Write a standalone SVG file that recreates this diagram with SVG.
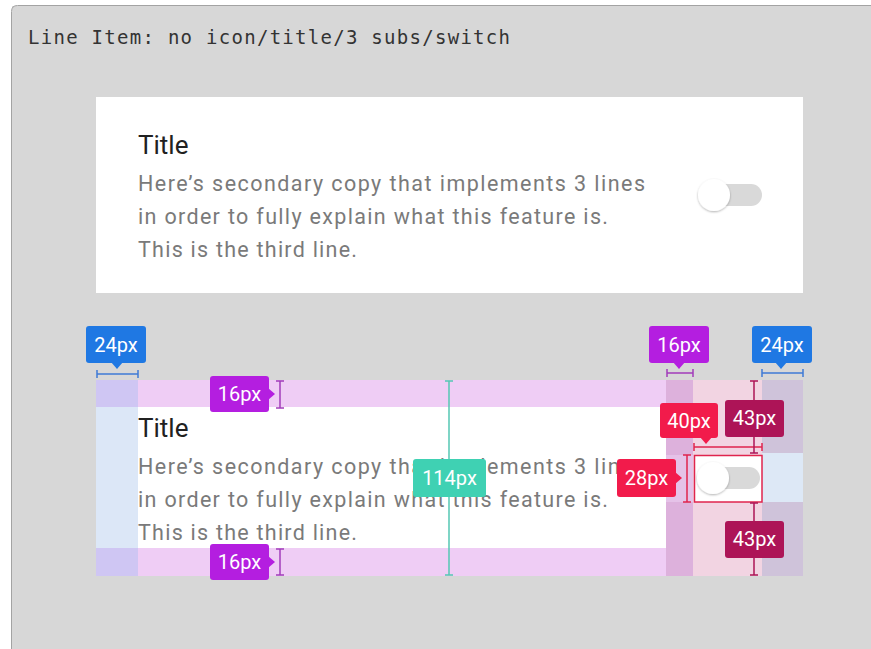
<svg xmlns="http://www.w3.org/2000/svg" width="871" height="649" viewBox="0 0 871 649">
<defs>
<style>
.mono{font-family:"DejaVu Sans Mono","Liberation Mono",monospace;font-size:19px;fill:#333}
.ttl{font-family:Roboto,"Liberation Sans",sans-serif;font-size:26px;fill:#212121}
.sub{font-family:Roboto,"Liberation Sans",sans-serif;font-size:21.5px;fill:#7a7a7a}
.lbl{font-family:Roboto,"Liberation Sans",sans-serif;font-size:20px;fill:#ffffff;text-anchor:middle}
.blue{fill:#1f78e3}
.purple{fill:#b41ee0}
.teal{fill:#3fd1b3}
.red{fill:#f21b4b}
.maroon{fill:#ad1457}
.m-blue{stroke:#3f7bd6;stroke-width:1.5;fill:none}
.m-purple{stroke:#a23cba;stroke-width:1.5;fill:none}
.m-teal{stroke:#55c8b4;stroke-width:1.5;fill:none}
.m-red{stroke:#e0244e;stroke-width:1.5;fill:none}
.m-maroon{stroke:#ad1457;stroke-width:1.5;fill:none}
</style>
<filter id="sh" x="-50%" y="-50%" width="200%" height="200%">
<feDropShadow dx="0" dy="1" stdDeviation="1.2" flood-color="#000" flood-opacity="0.3"/>
</filter>
</defs>

<g id="frame">
<rect x="12" y="6" width="859" height="643" fill="#d7d7d7"/>
<path d="M11.5 649 V11.5 Q11.5 5.5 17.5 5.5 H871" fill="none" stroke="#a3a3a3" stroke-width="1"/>
<text class="mono" x="28" y="44" textLength="482" lengthAdjust="spacing">Line Item: no icon/title/3 subs/switch</text>
</g>

<g id="card-preview">
<rect x="96" y="97" width="707" height="196" fill="#ffffff"/>
<text class="ttl" x="138" y="154">Title</text>
<text class="sub" x="138" y="191" textLength="507" lengthAdjust="spacing">Here’s secondary copy that implements 3 lines</text>
<text class="sub" x="138" y="224" textLength="470" lengthAdjust="spacing">in order to fully explain what this feature is.</text>
<text class="sub" x="138" y="257" textLength="219" lengthAdjust="spacing">This is the third line.</text>
<rect x="704" y="184" width="58" height="22" rx="11" fill="#d9d9d9"/>
<circle cx="714" cy="195" r="16" fill="#ffffff" filter="url(#sh)"/>
</g>

<g id="card-spec">
<rect x="96" y="380" width="707" height="196" fill="#ffffff"/>
<rect x="96" y="380" width="42" height="196" fill="#dce7f7"/>
<rect x="96" y="380" width="42" height="27" fill="#cfc6f3"/>
<rect x="96" y="548" width="42" height="28" fill="#cfc6f3"/>
<rect x="138" y="380" width="528" height="27" fill="#efcdf5"/>
<rect x="138" y="548" width="528" height="28" fill="#efcdf5"/>
<rect x="666" y="380" width="27" height="196" fill="#ddb1dc"/>
<rect x="666" y="455" width="27" height="47" fill="#e5c2e8"/>
<rect x="693" y="380" width="69" height="196" fill="#f2d4e2"/>
<rect x="762" y="380" width="41" height="196" fill="#cfc3da"/>
<rect x="762" y="453" width="41" height="49" fill="#dde8f6"/>
<rect x="694.5" y="455.5" width="67.5" height="46.5" fill="#ffffff"/>
<text class="ttl" x="138" y="437">Title</text>
<text class="sub" x="138" y="474" textLength="507" lengthAdjust="spacing">Here’s secondary copy that implements 3 lines</text>
<text class="sub" x="138" y="507" textLength="470" lengthAdjust="spacing">in order to fully explain what this feature is.</text>
<text class="sub" x="138" y="540" textLength="219" lengthAdjust="spacing">This is the third line.</text>
<rect x="704" y="467" width="56" height="22" rx="11" fill="#d9d9d9"/>
<circle cx="713" cy="478" r="16" fill="#ffffff" filter="url(#sh)"/>
</g>

<g id="connectors">
<path class="m-blue" d="M97 374 H138 M97 370 V378 M138 370 V378"/>
<path class="m-blue" d="M762 373 H803 M762 369 V377 M803 369 V377"/>
<path class="m-purple" d="M667 373 H693 M667 369 V377 M693 369 V377"/>
<path class="m-purple" d="M280 381 V408 M276 381 H284 M276 408 H284"/>
<path class="m-purple" d="M280 549 V575 M276 549 H284 M276 575 H284"/>
<path class="m-teal" d="M449 381 V575 M445 381 H453 M445 575 H453"/>
<path class="m-red" d="M694 447 H762 M694 443 V451 M762 443 V451"/>
<path class="m-red" d="M687 455 V502 M683 455 H691 M683 502 H691"/>
<rect class="m-red" x="694.5" y="455.5" width="67.5" height="46.5"/>
<path class="m-maroon" d="M754 381 V453 M750 381 H758 M750 453 H758"/>
<path class="m-maroon" d="M754 503 V575 M750 503 H758 M750 575 H758"/>
</g>

<g id="label-24-left">
<rect class="blue" x="86" y="326" width="60" height="37" rx="3"/>
<path class="blue" d="M111 362 L123 362 L117 369 Z"/>
<text class="lbl" x="116" y="352">24px</text>
</g>
<g id="label-16-top">
<rect class="purple" x="210" y="376" width="59" height="36" rx="3"/>
<path class="purple" d="M268 388 L268 400 L275 394 Z"/>
<text class="lbl" x="239.5" y="401">16px</text>
</g>
<g id="label-16-bottom">
<rect class="purple" x="210" y="544" width="59" height="36" rx="3"/>
<path class="purple" d="M268 556 L268 568 L275 562 Z"/>
<text class="lbl" x="239.5" y="569">16px</text>
</g>
<g id="label-114">
<rect class="teal" x="413" y="459" width="73" height="38" rx="3"/>
<text class="lbl" x="449.5" y="485">114px</text>
</g>
<g id="label-28">
<rect class="red" x="617" y="459" width="59" height="38" rx="3"/>
<path class="red" d="M675 472 L675 484 L682 478 Z"/>
<text class="lbl" x="646.5" y="485">28px</text>
</g>
<g id="label-40">
<rect class="red" x="660" y="403" width="58" height="35" rx="3"/>
<path class="red" d="M700 437 L712 437 L706 444 Z"/>
<text class="lbl" x="689" y="428">40px</text>
</g>
<g id="label-43-top">
<rect class="maroon" x="725" y="400" width="59" height="37" rx="3"/>
<text class="lbl" x="754.5" y="425">43px</text>
</g>
<g id="label-43-bottom">
<rect class="maroon" x="725" y="521" width="59" height="37" rx="3"/>
<text class="lbl" x="754.5" y="546">43px</text>
</g>
<g id="label-16-right">
<rect class="purple" x="649" y="326" width="60" height="37" rx="3"/>
<path class="purple" d="M673 362 L685 362 L679 369 Z"/>
<text class="lbl" x="679" y="352">16px</text>
</g>
<g id="label-24-right">
<rect class="blue" x="752" y="326" width="60" height="37" rx="3"/>
<path class="blue" d="M775 362 L787 362 L781 369 Z"/>
<text class="lbl" x="782" y="352">24px</text>
</g>
</svg>
